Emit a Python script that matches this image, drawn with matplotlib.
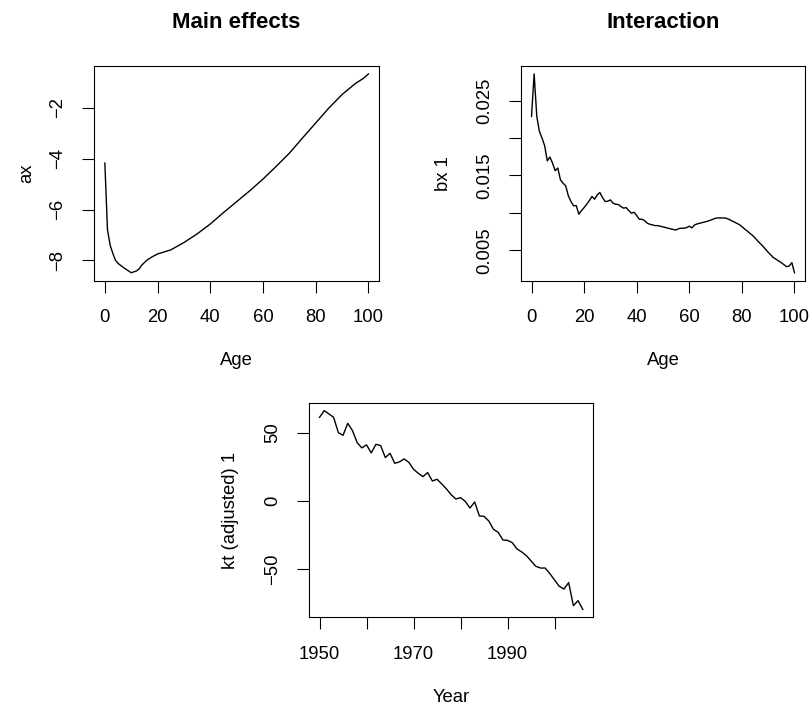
import matplotlib
matplotlib.use("Agg")
import matplotlib.pyplot as plt

plt.rcParams["font.family"] = ["Liberation Sans", "DejaVu Sans"]

# Main effects (ax)
ax_ages = [0, 1, 2, 3, 4, 5, 7, 9, 10, 12, 13, 14, 16, 18, 20, 25, 30, 35, 40,
           45, 50, 55, 60, 65, 70, 75, 80, 85, 90, 95, 98, 100]
ax_vals = [-4.17, -6.80, -7.40, -7.72, -7.99, -8.12, -8.28, -8.42, -8.49, -8.42,
           -8.34, -8.19, -7.99, -7.86, -7.75, -7.59, -7.30, -6.96, -6.57, -6.12,
           -5.69, -5.26, -4.80, -4.30, -3.78, -3.18, -2.59, -2.00, -1.47, -1.04,
           -0.84, -0.66]

# Interaction (bx 1), ages 0..100
bx_ages = list(range(101))
bx_vals = [0.02290, 0.02857, 0.02290, 0.02089, 0.02000, 0.01897, 0.01696, 0.01746,
           0.01665, 0.01563, 0.01600, 0.01442, 0.01397, 0.01362, 0.01228, 0.01152,
           0.01094, 0.01098, 0.00982, 0.01031, 0.01071, 0.01116, 0.01165, 0.01219,
           0.01183, 0.01241, 0.01272, 0.01205, 0.01152, 0.01156, 0.01174, 0.01130,
           0.01116, 0.01112, 0.01085, 0.01063, 0.01071, 0.01031, 0.00996, 0.01009,
           0.00964, 0.00915, 0.00915, 0.00897, 0.00862, 0.00848, 0.00839, 0.00830,
           0.00830, 0.00822, 0.00813, 0.00804, 0.00795, 0.00786, 0.00777, 0.00772,
           0.00790, 0.00795, 0.00795, 0.00804, 0.00822, 0.00800, 0.00839, 0.00853,
           0.00862, 0.00871, 0.00880, 0.00889, 0.00902, 0.00915, 0.00929, 0.00933,
           0.00933, 0.00933, 0.00929, 0.00915, 0.00897, 0.00880, 0.00862, 0.00844,
           0.00817, 0.00786, 0.00759, 0.00728, 0.00701, 0.00665, 0.00625, 0.00590,
           0.00554, 0.00514, 0.00473, 0.00438, 0.00402, 0.00380, 0.00357, 0.00335,
           0.00308, 0.00281, 0.00290, 0.00335, 0.00200]

# Period index kt (adjusted) 1
kt_years = list(range(1950, 2007))
kt_vals = [61.2, 66.1, 63.7, 61.2, 50.0, 48.0, 56.8, 51.5, 42.7, 38.8,
           41.0, 35.1, 41.4, 40.5, 31.7, 34.8, 27.5, 28.5, 30.7, 28.2,
           23.1, 20.2, 17.7, 20.7, 14.5, 15.8, 12.3, 8.7, 4.5, 1.3,
           2.3, -0.4, -5.3, -0.9, -11.1, -11.4, -14.8, -20.9, -23.1, -28.7,
           -29.0, -30.7, -35.3, -37.5, -40.2, -44.1, -48.0, -49.3, -49.3, -53.4,
           -58.1, -62.7, -64.7, -60.0, -76.9, -73.2, -79.6]

W, H = 812, 707
FS = 13.3


def style_axes(ax):
    ax.margins(0.04)
    for s in ax.spines.values():
        s.set_linewidth(0.8)
    ax.tick_params(direction="out", length=8.6, width=0.8, pad=12,
                   labelsize=FS, top=False, right=False)
    ax.tick_params(axis="y", pad=11.5)


def rotate_ylabels(ax):
    for lbl in ax.get_yticklabels():
        lbl.set_rotation(90)
        lbl.set_va("center")
        lbl.set_ha("right")


def place_labels(ax, xlabel, ylabel, ylab_px, width_px, height_px):
    ax.set_xlabel(xlabel, fontsize=FS, va="center")
    ax.xaxis.set_label_coords(0.5, -80 / height_px)
    ax.set_ylabel(ylabel, fontsize=FS, va="center")
    ax.yaxis.set_label_coords(-ylab_px / width_px, 0.5)


fig = plt.figure(figsize=(W / 100, H / 100), dpi=100)

# left, right, top, bottom in pixels
boxes = {
    "main": (94.3, 379, 66, 280.7),
    "inter": (521, 805, 66, 280.7),
    "kt": (309, 593.3, 402.7, 617.3),
}


def make_axes(key):
    l, r, t, b = boxes[key]
    return fig.add_axes([l / W, 1 - b / H, (r - l) / W, (b - t) / H]), r - l, b - t


a1, w1, h1 = make_axes("main")
a1.plot(ax_ages, ax_vals, color="black", lw=1.0)
style_axes(a1)
a1.set_xticks([0, 20, 40, 60, 80, 100])
a1.set_yticks([-8, -6, -4, -2])
rotate_ylabels(a1)
a1.set_title("Main effects", fontsize=16, fontweight="bold", pad=27)
place_labels(a1, "Age", "ax", 68, w1, h1)

a2, w2, h2 = make_axes("inter")
a2.plot(bx_ages, bx_vals, color="black", lw=1.0)
style_axes(a2)
a2.set_xticks([0, 20, 40, 60, 80, 100])
a2.set_yticks([0.005, 0.010, 0.015, 0.020, 0.025])
a2.set_yticklabels(["0.005", "", "0.015", "", "0.025"])
rotate_ylabels(a2)
a2.set_title("Interaction", fontsize=16, fontweight="bold", pad=27)
place_labels(a2, "Age", "bx 1", 78, w2, h2)

a3, w3, h3 = make_axes("kt")
a3.plot(kt_years, kt_vals, color="black", lw=1.0)
style_axes(a3)
a3.set_xticks([1950, 1960, 1970, 1980, 1990, 2000])
a3.set_xticklabels(["1950", "", "1970", "", "1990", ""])
a3.set_yticks([-50, 0, 50])
rotate_ylabels(a3)
place_labels(a3, "Year", "kt (adjusted) 1", 78, w3, h3)

fig.savefig("out.png", dpi=100)
